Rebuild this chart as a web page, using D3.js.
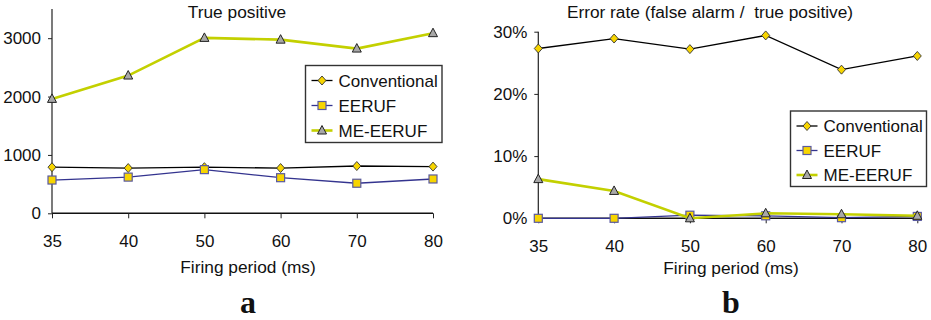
<!DOCTYPE html>
<html>
<head>
<meta charset="utf-8">
<script src="https://cdn.jsdelivr.net/npm/d3@7"></script>
<style>
  body { margin: 0; background: #fff; }
  svg text { font-family: "Liberation Sans", Arial, sans-serif; fill: #111; white-space: pre; }
</style>
</head>
<body>
<div id="chart"></div>
<script>
// firing period categories (ms)
var periods = ["35", "40", "50", "60", "70", "80"];
var seriesNames = ["Conventional", "EERUF", "ME-EERUF"];

// panel a: true positive counts
var tpConventional = [790, 775, 790, 775, 810, 800];
var tpEERUF = [570, 620, 748, 610, 515, 588];
var tpMEEERUF = [1960, 2360, 3005, 2975, 2822, 3086];
var tpTicks = [0, 1000, 2000, 3000];

// panel b: error rate (false alarm / true positive)
var erConventional = [0.273, 0.289, 0.272, 0.294, 0.239, 0.261];
var erEERUF = [0.000, 0.000, 0.005, 0.004, 0.001, 0.003];
var erMEEERUF = [0.063, 0.044, 0.000, 0.008, 0.0065, 0.004];
var erTicks = [0, 0.1, 0.2, 0.3];

var styles = {
  "Conventional": {line: "#000", width: 1.3, shape: "diamond", fill: "#f7d500", stroke: "#333"},
  "EERUF": {line: "#34348f", width: 1.3, shape: "square", fill: "#f7d500", stroke: "#5a5aa0"},
  "ME-EERUF": {line: "#c3d000", width: 2.6, shape: "triangle", fill: "#a8a8a8", stroke: "#222"}
};

var svg = d3.select("#chart").append("svg")
  .attr("width", 931)
  .attr("height", 320);

function marker(g, shape, fill, stroke) {
  if (shape == "diamond") {
    g.append("path").attr("d", "M0,-4.5L4,0L0,4.5L-4,0Z")
      .attr("fill", fill).attr("stroke", stroke).attr("stroke-width", 0.9);
  } else if (shape == "square") {
    g.append("rect").attr("x", -4).attr("y", -4).attr("width", 8).attr("height", 8)
      .attr("fill", fill).attr("stroke", stroke).attr("stroke-width", 1.2);
  } else {
    g.append("path").attr("d", "M0,-5L4.5,3.5L-4.5,3.5Z")
      .attr("fill", fill).attr("stroke", stroke).attr("stroke-width", 1);
  }
}

function drawPanel(opt) {
  var x = d3.scalePoint().domain(periods).range([opt.left, opt.right]);
  var y = d3.scaleLinear().domain(opt.domain).range([opt.bottom, opt.top]);
  var g = svg.append("g");

  // y axis
  var ya = g.append("g")
    .attr("transform", "translate(" + opt.left + ",0)")
    .call(d3.axisLeft(y).tickValues(opt.ticks).tickFormat(opt.fmt).tickSize(4).tickPadding(7));
  ya.select(".domain").attr("d", "M0," + opt.bottom + "V" + opt.top).attr("stroke", "#222").attr("stroke-width", 1.2);
  ya.selectAll(".tick line").attr("stroke", "#222");
  ya.selectAll(".tick text").style("font-size", "17px").attr("fill", "#111");

  // x axis
  var xa = g.append("g")
    .attr("transform", "translate(0," + opt.bottom + ")")
    .call(d3.axisBottom(x).tickSize(5).tickPadding(17));
  xa.select(".domain").attr("d", "M" + opt.left + ",0H" + opt.right).attr("stroke", "#111").attr("stroke-width", 1.4);
  xa.selectAll(".tick line").attr("stroke", "#222");
  xa.selectAll(".tick text").style("font-size", "17px").attr("fill", "#111");

  // titles
  g.append("text").attr("x", opt.titleX).attr("y", 18).attr("text-anchor", "middle")
    .style("font-size", "17.3px").text(opt.title);
  g.append("text").attr("x", opt.labelX).attr("y", opt.xTitleY).attr("text-anchor", "middle")
    .style("font-size", "17.3px").text("Firing period (ms)");
  g.append("text").attr("x", opt.labelX).attr("y", 313).attr("text-anchor", "middle")
    .style("font-family", "'Liberation Serif', serif").style("font-weight", "bold")
    .style("font-size", "32px").text(opt.letter);

  // lines and markers
  opt.series.forEach(function(vals, i) {
    var st = styles[seriesNames[i]];
    var line = d3.line()
      .x(function(d, j) { return x(periods[j]); })
      .y(function(d) { return y(d); });
    g.append("path").datum(vals).attr("d", line)
      .attr("fill", "none").attr("stroke", st.line).attr("stroke-width", st.width);
    vals.forEach(function(v, j) {
      var m = g.append("g").attr("transform", "translate(" + x(periods[j]) + "," + y(v) + ")");
      marker(m, st.shape, st.fill, st.stroke);
    });
  });

  // legend
  var lg = g.append("g").attr("transform", "translate(" + opt.legX + "," + opt.legY + ")");
  lg.append("rect").attr("x", 0).attr("y", 0).attr("width", opt.legW).attr("height", opt.legH)
    .attr("fill", "#fff").attr("stroke", "#333").attr("stroke-width", 1.4);
  seriesNames.forEach(function(name, i) {
    var st = styles[name];
    var cy = opt.legRow0 + i * opt.legStep;
    lg.append("line").attr("x1", 6).attr("x2", 6 + opt.sampleW).attr("y1", cy).attr("y2", cy)
      .attr("stroke", st.line).attr("stroke-width", st.width);
    var m = lg.append("g").attr("transform", "translate(" + (6 + opt.sampleW / 2) + "," + cy + ")");
    marker(m, st.shape, st.fill, st.stroke);
    lg.append("text").attr("x", opt.sampleW + 12).attr("y", cy).attr("dy", "0.36em")
      .style("font-size", "17px").text(name);
  });
}

drawPanel({
  left: 52, right: 433, top: 9, bottom: 213.3,
  domain: [0, 3500], ticks: tpTicks, fmt: d3.format("d"),
  title: "True positive", titleX: 237, labelX: 248, xTitleY: 273, letter: "a",
  series: [tpConventional, tpEERUF, tpMEEERUF],
  legX: 305.5, legY: 65.5, legW: 136.5, legH: 77, legRow0: 15, legStep: 25, sampleW: 21
});

drawPanel({
  left: 538.3, right: 917.3, top: 31.7, bottom: 218.3,
  domain: [0, 0.3], ticks: erTicks, fmt: d3.format(".0%"),
  title: "Error rate (false alarm /  true positive)", titleX: 710, labelX: 731, xTitleY: 274, letter: "b",
  series: [erConventional, erEERUF, erMEEERUF],
  legX: 790.5, legY: 111, legW: 136, legH: 75.5, legRow0: 15, legStep: 24.5, sampleW: 21
});
</script>
</body>
</html>
